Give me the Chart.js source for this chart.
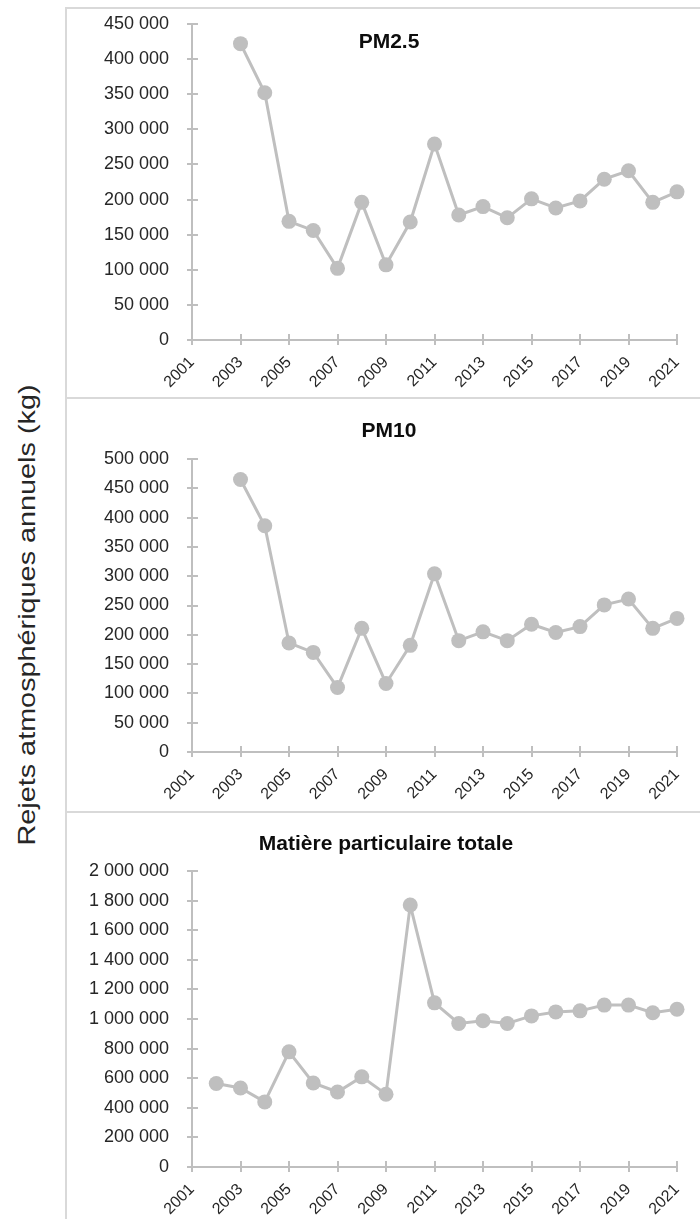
<!DOCTYPE html>
<html lang="fr">
<head>
<meta charset="utf-8">
<title>Rejets atmosphériques annuels</title>
<script src="https://cdn.jsdelivr.net/npm/chart.js@4/dist/chart.umd.min.js"></script>
<style>
  html, body { margin: 0; padding: 0; background: #ffffff; }
  body { width: 700px; height: 1219px; position: relative; overflow: hidden;
         font-family: "Liberation Sans", Arial, sans-serif; }
  .panel { position: absolute; left: 0; width: 700px; }
  .panel canvas { position: absolute; left: 0; top: 0; }
  .title { position: absolute; font-weight: bold; font-size: 21px; color: #0d0d0d;
           line-height: 1; white-space: nowrap; transform: translate(-50%, -50%); }
  .rule { position: absolute; background: #d9d9d9; }
  #ytitle { position: absolute; left: 27px; top: 615px; font-size: 24px; color: #262626;
            line-height: 1; white-space: nowrap;
            transform: translate(-50%, -50%) rotate(-90deg) scaleX(1.2); }
</style>
</head>
<body>

<div class="rule" style="left:65px;top:7px;width:635px;height:2px"></div>
<div class="rule" style="left:65px;top:7px;width:2px;height:1212px"></div>
<div class="rule" style="left:65px;top:397px;width:635px;height:2px"></div>
<div class="rule" style="left:65px;top:811px;width:635px;height:2px"></div>

<div id="ytitle">Rejets atmosphériques annuels (kg)</div>

<div class="panel" style="top:9px;height:388px"><canvas id="c1"></canvas></div>
<div class="panel" style="top:399px;height:412px"><canvas id="c2"></canvas></div>
<div class="panel" style="top:813px;height:406px"><canvas id="c3"></canvas></div>

<div class="title" style="left:389px;top:40px">PM2.5</div>
<div class="title" style="left:389px;top:429px">PM10</div>
<div class="title" style="left:386px;top:842px">Matière particulaire totale</div>

<script>
// Years of the series and the year ticks shown on every x axis
const years = [2002, 2003, 2004, 2005, 2006, 2007, 2008, 2009, 2010, 2011,
               2012, 2013, 2014, 2015, 2016, 2017, 2018, 2019, 2020, 2021];
const yearTicks = [2001, 2003, 2005, 2007, 2009, 2011, 2013, 2015, 2017, 2019, 2021];

// Annual releases (kg)
const pm25 = [null, 422000, 352000, 169000, 156000, 102000, 196000, 107000, 168000, 279000,
              178000, 190000, 174000, 201000, 188000, 198000, 229000, 241000, 196000, 211000];
const pm10 = [null, 465000, 386000, 186000, 170000, 110000, 211000, 117000, 182000, 304000,
              190000, 205000, 190000, 218000, 204000, 214000, 251000, 261000, 211000, 228000];
const pmTotal = [564000, 534000, 440000, 778000, 568000, 507000, 609000, 492000, 1770000, 1109000,
                 970000, 988000, 970000, 1021000, 1048000, 1055000, 1094000, 1094000, 1042000, 1066000];

// Value ticks of each panel
const ticksPm25 = [0, 50000, 100000, 150000, 200000, 250000, 300000, 350000, 400000, 450000];
const ticksPm10 = [0, 50000, 100000, 150000, 200000, 250000, 300000, 350000, 400000, 450000, 500000];
const ticksTotal = [0, 200000, 400000, 600000, 800000, 1000000, 1200000, 1400000, 1600000, 1800000, 2000000];

const GREY = '#bfbfbf';
const TEXT = '#262626';
const FONT = '"Liberation Sans", Arial, sans-serif';

function spaced(v) {
  return String(v).replace(/\B(?=(\d{3})+(?!\d))/g, ' ');
}

// Small tick marks that cross the axis lines on both sides
const crossTicks = {
  id: 'crossTicks',
  beforeDatasetsDraw(chart) {
    const { ctx, scales: { x, y } } = chart;
    ctx.save();
    ctx.strokeStyle = GREY;
    ctx.lineWidth = 2;
    ctx.beginPath();
    y.ticks.forEach((t, i) => {
      const p = Math.round(y.getPixelForTick(i));
      ctx.moveTo(x.left - 5, p); ctx.lineTo(x.left + 6, p);
    });
    x.ticks.forEach((t, i) => {
      const p = Math.round(x.getPixelForTick(i));
      ctx.moveTo(p, y.bottom - 6); ctx.lineTo(p, y.bottom + 5);
    });
    ctx.stroke();
    ctx.restore();
  }
};

function makeChart(id, values, yTicks, top, xHeight) {
  const canvas = document.getElementById(id);
  const box = canvas.parentElement;
  canvas.width = 700;
  canvas.height = box.clientHeight;
  canvas.style.width = '700px';
  canvas.style.height = box.clientHeight + 'px';

  return new Chart(canvas, {
    type: 'line',
    data: {
      datasets: [{
        data: years.map((yr, i) => ({ x: yr, y: values[i] })),
        borderColor: GREY,
        backgroundColor: GREY,
        borderWidth: 3,
        pointRadius: 7.5,
        pointHoverRadius: 7.5,
        pointBorderWidth: 0,
        pointBackgroundColor: GREY,
        tension: 0,
        clip: false
      }]
    },
    options: {
      responsive: false,
      animation: false,
      events: [],
      layout: { padding: { top: top, right: 23, bottom: 0, left: 0 } },
      plugins: { legend: { display: false }, tooltip: { enabled: false }, title: { display: false } },
      scales: {
        x: {
          type: 'linear',
          min: yearTicks[0],
          max: yearTicks[yearTicks.length - 1],
          afterBuildTicks: s => { s.ticks = yearTicks.map(v => ({ value: v })); },
          afterFit: s => {
            s.height = xHeight;
            s.paddingLeft = 0; s.paddingRight = 0; s.paddingTop = 0; s.paddingBottom = 0;
          },
          grid: { display: false },
          border: { display: true, color: GREY, width: 2 },
          ticks: {
            autoSkip: false,
            minRotation: 45,
            maxRotation: 45,
            padding: 5,
            color: TEXT,
            font: { family: FONT, size: 16 },
            callback: v => String(v)
          }
        },
        y: {
          min: yTicks[0],
          max: yTicks[yTicks.length - 1],
          afterBuildTicks: s => { s.ticks = yTicks.map(v => ({ value: v })); },
          afterFit: s => {
            s.width = 192;
            s.paddingLeft = 0; s.paddingRight = 0; s.paddingTop = 0; s.paddingBottom = 0;
          },
          grid: { display: false },
          border: { display: true, color: GREY, width: 2 },
          ticks: {
            padding: 15,
            color: TEXT,
            font: { family: FONT, size: 18 },
            callback: v => spaced(v)
          }
        }
      }
    },
    plugins: [crossTicks]
  });
}

makeChart('c1', pm25, ticksPm25, 15, 57);
makeChart('c2', pm10, ticksPm10, 60, 59);
makeChart('c3', pmTotal, ticksTotal, 58, 52);
</script>
</body>
</html>
